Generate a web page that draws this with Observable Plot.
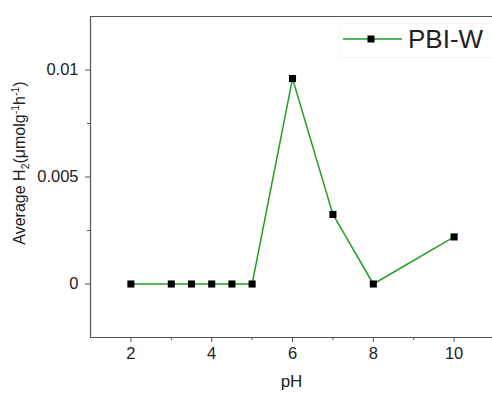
<!DOCTYPE html>
<html>
<head>
<meta charset="utf-8">
<script src="https://cdn.jsdelivr.net/npm/d3@7"></script>
<script src="https://cdn.jsdelivr.net/npm/@observablehq/plot@0.6"></script>
<style>
  html, body { margin: 0; padding: 0; background: white; overflow: hidden; }
</style>
</head>
<body>
<div id="chart"></div>
<script>
const pH = [2, 3, 3.5, 4, 4.5, 5, 6, 7, 8, 10];
const h2 = [0, 0, 0, 0, 0, 0, 0.0096, 0.00325, 0, 0.0022];
const xMajor = [2, 4, 6, 8, 10];
const xMinor = [3, 5, 7, 9];
const yMajor = [0, 0.005, 0.01];
const yMinor = [0.0025, 0.0075];
const seriesName = "PBI-W";
const xLabel = "pH";
// y label pieces: [text, kind] kind: n normal, sub, sup
const yLabelParts = [["Average H", "n"], ["2", "sub"], ["(\u03bcmolg", "n"], ["-1", "sup"], ["h", "n"], ["-1", "sup"], [")", "n"]];

const data = pH.map((p, i) => ({pH: p, h2: h2[i]}));
const green = "#22a022";
const axisColor = "#555";
const font = "'Liberation Sans', Arial, sans-serif";

const plot = Plot.plot({
  width: 492,
  height: 394,
  marginTop: 16,
  marginLeft: 90,
  marginRight: 0,
  marginBottom: 57,
  x: {domain: [1, 10.95]},
  y: {domain: [-0.0025, 0.0125]},
  style: {fontFamily: font, fontSize: "16.5px", color: "#222", background: "white"},
  marks: [
    Plot.ruleX([1], {stroke: axisColor, strokeWidth: 1.2}),
    Plot.ruleY([-0.0025], {stroke: axisColor, strokeWidth: 1.2}),
    Plot.ruleY([0.0125], {stroke: axisColor, strokeWidth: 1.2}),
    Plot.axisX({ticks: xMajor, tickSize: 5, tickPadding: 5, label: null, stroke: axisColor}),
    Plot.axisX({ticks: xMinor, tickSize: 3, tickFormat: () => "", label: null, stroke: axisColor}),
    Plot.axisY({ticks: yMajor, tickSize: 5, tickPadding: 7, label: null, stroke: axisColor,
      tickFormat: d => d === 0 ? "0" : String(d)}),
    Plot.axisY({ticks: yMinor, tickSize: 3, tickFormat: () => "", label: null, stroke: axisColor}),
    Plot.line(data, {x: "pH", y: "h2", stroke: green, strokeWidth: 1.5}),
    Plot.dot(data, {x: "pH", y: "h2", symbol: "square", r: 4, fill: "black", stroke: "none"}),
    Plot.text([xLabel], {frameAnchor: "bottom", dy: 49, fontSize: 17, fill: "#222"})
  ]
});

const svg = d3.select(plot);

// Y axis label with real sub/superscripts
const yl = svg.append("text")
  .attr("transform", "translate(25,163) rotate(-90)")
  .attr("text-anchor", "middle")
  .attr("font-family", font)
  .attr("font-size", 16)
  .attr("fill", "#222");
let shift = 0;
for (const [t, kind] of yLabelParts) {
  const target = kind === "sub" ? 4 : kind === "sup" ? -6 : 0;
  const ts = yl.append("tspan").text(t).attr("dy", target - shift);
  if (kind !== "n") ts.attr("font-size", 10.5);
  shift = target;
}

// Legend
const lg = svg.append("g");
lg.append("rect").attr("x", 339.5).attr("y", 23.5).attr("width", 160).attr("height", 34)
  .attr("fill", "white").attr("stroke", "#f4f4f4");
lg.append("line").attr("x1", 343).attr("x2", 402).attr("y1", 39).attr("y2", 39)
  .attr("stroke", green).attr("stroke-width", 1.5);
lg.append("rect").attr("x", 367.5).attr("y", 35.5).attr("width", 7).attr("height", 7).attr("fill", "black");
lg.append("text").attr("x", 408).attr("y", 48).attr("font-size", 26).attr("text-anchor", "start")
  .attr("font-family", font).attr("fill", "#222").text(seriesName);

document.getElementById("chart").appendChild(plot);
</script>
</body>
</html>
